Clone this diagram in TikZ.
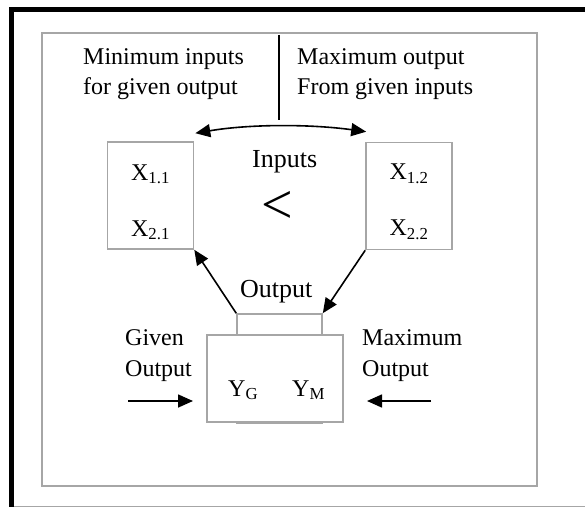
\documentclass[tikz,border=0pt]{standalone}
\usepackage{fontspec}
\setmainfont{Liberation Serif}
\usepackage{xcolor}
\usetikzlibrary{arrows.meta, positioning, calc}
\definecolor{boxgray}{RGB}{166,166,166}

\begin{document}
\begin{tikzpicture}[
    x=1pt, y=-1pt,
    framebox/.style={rectangle, draw=boxgray, line width=1.6pt, minimum width=495pt, minimum height=453pt, inner sep=0pt},
    inbox/.style={rectangle, draw=boxgray, line width=1.6pt, fill=white, minimum width=86pt, minimum height=107pt, inner sep=0pt},
    tabbox/.style={rectangle, draw=boxgray, line width=1.6pt, minimum width=85pt, minimum height=109pt, inner sep=0pt},
    outbox/.style={rectangle, draw=boxgray, line width=1.6pt, fill=white, minimum width=136pt, minimum height=87pt, inner sep=0pt},
    lbl/.style={inner sep=0pt, anchor=base west, font=\fontsize{24}{28}\selectfont},
    biglbl/.style={inner sep=0pt, anchor=base west, font=\fontsize{26}{30}\selectfont},
    varlbl/.style={inner sep=0pt, anchor=base, font=\fontsize{24}{28}\selectfont},
    arr/.style={line width=1.6pt, -{Triangle[length=15pt, width=13pt]}}
  ]
  \useasboundingbox (0,0) rectangle (585,508);

  % Outer frame
  \draw[boxgray, line width=1.5pt] (14,506.5) -- (585,506.5);
  \draw[line width=5pt] (11.5,506.5) -- (11.5,10) -- (585,10);

  % Inner panel
  \node[framebox] (panel) at (289.5,259.5) {};
  \coordinate (divtop) at (279,35);
  \coordinate (divbot) at (279,120);
  \draw[line width=1.3pt] (divtop) -- (divbot);

  % Headings
  \node[lbl] (minl1) at (83,65) {Minimum inputs};
  \node[lbl] (minl2) at (83,95) {for given output};
  \node[lbl] (maxl1) at (297,65) {Maximum output};
  \node[lbl] (maxl2) at (297,95) {From given inputs};

  % Input bundles
  \node[inbox] (xl) at (150.5,195.5) {};
  \node[inbox] (xr) at (409,196) {};
  \node[varlbl] (x11) at ($(xl.north)+(0,39)$) {X\textsubscript{1.1}};
  \node[varlbl] (x21) at ($(xl.north)+(0,95)$) {X\textsubscript{2.1}};
  \node[varlbl] (x12) at ($(xr.north)+(0,38)$) {X\textsubscript{1.2}};
  \node[varlbl] (x22) at ($(xr.north)+(0,94)$) {X\textsubscript{2.2}};
  \node[biglbl] (inputs) at (252,167) {Inputs};
  \node[inner sep=0pt, font=\fontsize{56}{56}\selectfont] (less) at (277,207) {<};

  \coordinate (arcl) at ($(xl.north east)+(1,-8)$);
  \coordinate (arcr) at ($(xr.north west)+(1,-10)$);
  \draw[line width=1.6pt, {Triangle[length=15pt, width=13pt]}-{Triangle[length=15pt, width=13pt]}]
    (arcl) .. controls (250,124) and (310,124) .. (arcr);

  % Output
  \node[tabbox] (tab) at (279.5,368.5) {};
  \node[outbox] (ybox) at (275,378.5) {};
  \node[biglbl] (outl) at (240,297) {Output};
  \node[varlbl, anchor=base west] (yg) at (228,396) {Y\textsubscript{G}};
  \node[varlbl, anchor=base west] (ym) at (292,396) {Y\textsubscript{M}};

  \draw[arr] (tab.north west) -- (xl.south east);
  \draw[arr] (xr.south west) -- (tab.north east);

  % Given / maximum output
  \node[lbl] (givl1) at (125,345) {Given};
  \node[lbl] (givl2) at (125,376) {Output};
  \node[lbl] (maxo1) at (362,345) {Maximum};
  \node[lbl] (maxo2) at (362,376) {Output};

  \coordinate (gin) at (128,401);
  \coordinate (gend) at (193,401);
  \coordinate (min) at (431,401);
  \coordinate (mend) at (367,401);
  \draw[arr] (gin) -- (gend);
  \draw[arr] (min) -- (mend);
\end{tikzpicture}
\end{document}
